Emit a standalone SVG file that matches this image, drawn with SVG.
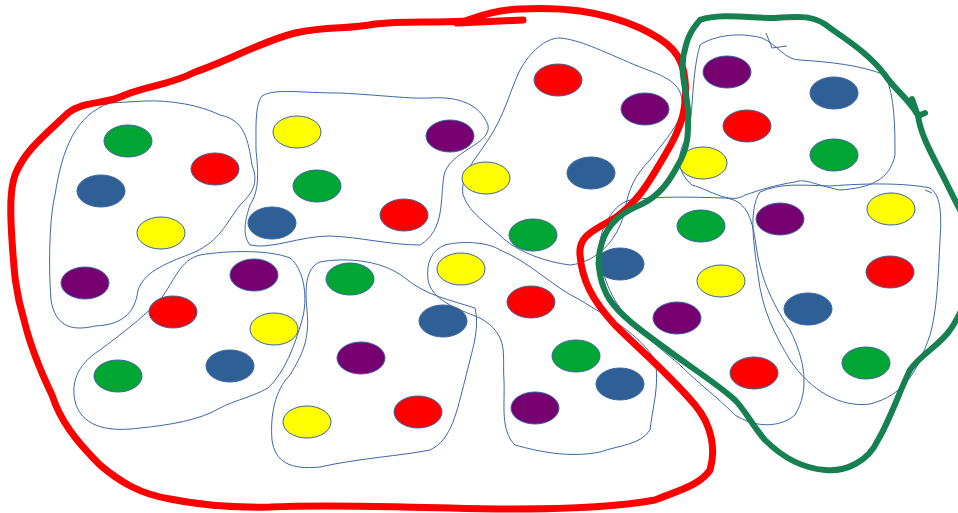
<svg xmlns="http://www.w3.org/2000/svg" width="958" height="513" viewBox="0 0 958 513">
<defs>
<style>
.b{fill:none;stroke:#3c68a8;stroke-width:1}
.d{stroke:#3a64a0;stroke-width:1}
.g{fill:#00a633}.r{fill:#ff0000}.u{fill:#2e6096}.y{fill:#ffff00}.p{fill:#770070}
.red{fill:none;stroke:#ff0000;stroke-width:7;stroke-linecap:round;stroke-linejoin:round}
.grn{fill:none;stroke:#168050;stroke-width:6;stroke-linecap:round;stroke-linejoin:round}
</style>
</defs>
<rect width="958" height="513" fill="#fff"/>
<g id="blobs">
<path class="b" d="M145,101 C170,100 200,105 220,115 C245,120 248,140 252,165 C260,185 250,195 240,205 C225,225 220,240 195,252 C170,262 145,270 138,290 C135,315 120,325 95,326 C70,332 55,325 51,300 C48,260 50,215 55,195 C62,150 75,115 110,103 Z"/>
<path class="b" d="M262,96 C275,88 300,93 340,93 C380,95 410,99 430,98 C460,96 480,105 488,125 C492,145 450,150 444,175 C440,200 445,230 420,245 C390,245 360,237 330,236 C300,236 270,250 250,245 C242,235 245,220 250,205 C260,190 258,170 256,150 C256,125 255,105 262,96 Z"/>
<path class="b" d="M560,38 C580,40 600,50 635,65 C660,75 680,80 682,100 C685,120 665,140 650,160 C635,175 628,190 625,210 C620,235 600,262 570,265 C545,262 520,252 505,240 C490,225 470,215 463,195 C460,175 475,160 488,140 C505,115 510,90 520,70 C530,52 545,38 560,38 Z"/>
<path class="b" d="M200,255 C230,250 270,250 290,258 C305,270 308,300 302,320 C295,345 285,372 268,388 C250,398 235,400 220,408 C200,420 170,425 140,428 C110,432 85,428 76,405 C70,385 76,365 100,350 C120,335 140,320 160,300 C175,280 180,260 200,255 Z"/>
<path class="b" d="M320,262 C340,258 380,258 405,278 C425,295 450,300 475,308 C480,330 472,350 465,380 C457,410 452,440 430,450 C400,456 360,458 320,467 C290,470 275,462 272,440 C270,415 275,390 290,375 C302,355 310,340 307,310 C305,290 305,268 320,262 Z"/>
<path class="b" d="M445,245 C465,240 490,243 500,250 C530,262 550,285 580,300 C610,318 640,335 655,360 C660,385 652,410 650,430 C640,445 620,445 600,452 C570,458 540,452 515,445 C500,430 505,405 504,380 C502,355 510,335 480,318 C455,308 432,300 428,280 C426,262 432,250 445,245 Z"/>
<path class="b" d="M700,45 C715,35 740,32 762,38 C778,45 785,60 800,60 C830,62 860,65 885,75 C895,95 895,130 895,155 C890,180 870,188 840,190 C815,185 805,178 795,182 C775,185 760,190 745,195 C730,205 710,190 692,185 C680,175 675,160 685,140 C695,120 690,80 700,45 Z"/>
<path class="b" d="M630,200 C660,196 690,197 725,198 C745,200 752,215 756,245 C760,275 770,300 790,330 C805,360 810,390 795,415 C780,428 755,428 735,415 C715,395 700,385 680,365 C650,340 625,320 612,295 C600,270 595,245 605,225 C612,210 620,203 630,200 Z"/>
<path class="b" d="M760,192 C780,183 800,185 830,186 C870,183 905,183 930,188 C940,195 942,210 940,240 C938,280 937,310 930,335 C918,370 905,395 870,404 C840,408 810,390 790,360 C775,335 762,310 758,275 C754,245 748,210 760,192 Z"/>
<path class="b" d="M766,33 L772,48 L787,46"/>
<path class="b" d="M925,190 L932,193"/>
</g>
<g id="dots">
<g id="c1"><ellipse class="d g" cx="128" cy="141" rx="24" ry="16"/><ellipse class="d r" cx="215" cy="169" rx="24" ry="16"/><ellipse class="d u" cx="101" cy="191" rx="24" ry="16"/><ellipse class="d y" cx="161" cy="233" rx="24" ry="16"/><ellipse class="d p" cx="85" cy="283" rx="24" ry="16"/></g>
<g id="c2"><ellipse class="d y" cx="297" cy="132" rx="24" ry="16"/><ellipse class="d p" cx="450" cy="136" rx="24" ry="16"/><ellipse class="d g" cx="317" cy="186" rx="24" ry="16"/><ellipse class="d r" cx="404" cy="215" rx="24" ry="16"/><ellipse class="d u" cx="272" cy="223" rx="24" ry="16"/></g>
<g id="c3"><ellipse class="d r" cx="558" cy="80" rx="24" ry="16"/><ellipse class="d p" cx="645" cy="109" rx="24" ry="16"/><ellipse class="d y" cx="486" cy="178" rx="24" ry="16"/><ellipse class="d u" cx="591" cy="173" rx="24" ry="16"/><ellipse class="d g" cx="533" cy="235" rx="24" ry="16"/></g>
<g id="c4"><ellipse class="d p" cx="254" cy="275" rx="24" ry="16"/><ellipse class="d r" cx="173" cy="312" rx="24" ry="16"/><ellipse class="d y" cx="274" cy="329" rx="24" ry="16"/><ellipse class="d g" cx="118" cy="376" rx="24" ry="16"/><ellipse class="d u" cx="230" cy="366" rx="24" ry="16"/></g>
<g id="c5"><ellipse class="d g" cx="350" cy="279" rx="24" ry="16"/><ellipse class="d u" cx="443" cy="321" rx="24" ry="16"/><ellipse class="d p" cx="361" cy="358" rx="24" ry="16"/><ellipse class="d y" cx="307" cy="422" rx="24" ry="16"/><ellipse class="d r" cx="418" cy="412" rx="24" ry="16"/></g>
<g id="c6"><ellipse class="d y" cx="461" cy="269" rx="24" ry="16"/><ellipse class="d r" cx="531" cy="302" rx="24" ry="16"/><ellipse class="d g" cx="576" cy="356" rx="24" ry="16"/><ellipse class="d u" cx="620" cy="384" rx="24" ry="16"/><ellipse class="d p" cx="535" cy="408" rx="24" ry="16"/></g>
<g id="c7"><ellipse class="d p" cx="727" cy="72" rx="24" ry="16"/><ellipse class="d u" cx="834" cy="93" rx="24" ry="16"/><ellipse class="d r" cx="747" cy="126" rx="24" ry="16"/><ellipse class="d g" cx="834" cy="155" rx="24" ry="16"/><ellipse class="d y" cx="703" cy="163" rx="24" ry="16"/></g>
<g id="c8"><ellipse class="d g" cx="701" cy="226" rx="24" ry="16"/><ellipse class="d u" cx="620" cy="264" rx="24" ry="16"/><ellipse class="d y" cx="721" cy="281" rx="24" ry="16"/><ellipse class="d p" cx="677" cy="318" rx="24" ry="16"/><ellipse class="d r" cx="754" cy="373" rx="24" ry="16"/></g>
<g id="c9"><ellipse class="d p" cx="780" cy="219" rx="24" ry="16"/><ellipse class="d y" cx="891" cy="209" rx="24" ry="16"/><ellipse class="d r" cx="890" cy="272" rx="24" ry="16"/><ellipse class="d u" cx="808" cy="309" rx="24" ry="16"/><ellipse class="d g" cx="866" cy="363" rx="24" ry="16"/></g>
</g>
<g id="loops">
<path class="red" d="M523,20 C500,21 480,22 457,23 M462,22 C480,16 495,10 520,9 C560,7 600,10 640,28 C670,42 683,55 685,80 C688,110 680,130 665,155 C650,180 640,200 615,218 C595,230 578,235 580,255 C582,280 592,300 615,325 C640,350 670,375 695,405 C712,425 716,450 710,470 C700,485 680,490 655,500 C600,510 520,510 450,508 C380,507 330,504 270,507 C230,508 200,505 170,499 C140,494 120,482 100,465 C75,440 60,420 52,395 C40,370 30,345 24,320 C15,290 14,270 12,240 C10,210 10,190 15,175 C25,150 45,135 68,113 C85,100 105,105 125,95 C150,85 170,85 195,72 C230,60 260,42 295,33 C330,25 345,30 375,24 C405,21 430,23 465,21"/>
<path class="grn" d="M912,99 L918,116 L925,113"/>
<path class="grn" d="M700,20 C720,13 750,18 775,18 C800,16 815,15 830,28 C850,42 870,55 885,75 C895,90 905,95 918,115 C920,135 935,160 945,180 C952,195 958,205 975,240 L975,285 C965,300 958,320 950,330 C940,345 920,355 910,370 C900,390 890,420 878,440 C868,462 845,472 825,470 C800,468 780,455 765,440 C752,425 745,410 735,400 C715,382 690,367 665,348 C640,330 620,315 610,300 C600,285 597,265 600,250 C604,230 615,215 640,205 C660,196 670,180 678,165 C690,145 688,128 688,110 C686,85 678,70 686,45 C690,30 696,25 700,20"/>
</g>
</svg>
